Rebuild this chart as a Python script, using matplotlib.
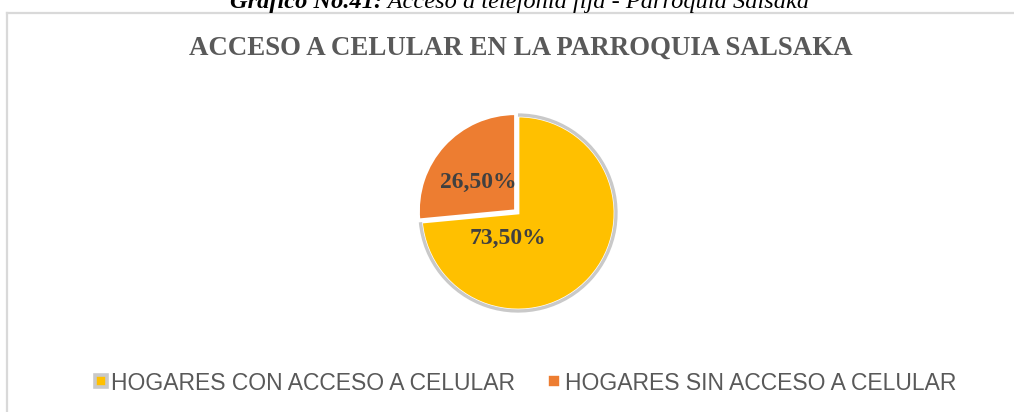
import numpy as np
import matplotlib.pyplot as plt
from matplotlib.patches import Arc
from matplotlib.lines import Line2D

# datos del gráfico
categorias = ['HOGARES CON ACCESO A CELULAR', 'HOGARES SIN ACCESO A CELULAR']
porcentajes = [73.50, 26.50]
colores = ['#FFC000', '#ED7D31']
etiquetas = ['73,50%', '26,50%']

titulo = 'ACCESO A CELULAR EN LA PARROQUIA SALSAKA'
leyenda_grafico = 'Gráfico No.41:'
descripcion = ' Acceso a telefonía fija - Parroquia Salsaka'

W, H = 1014, 412
fig = plt.figure(figsize=(W / 100, H / 100), dpi=100)
fig.patch.set_facecolor('white')

# marco del área del gráfico
fig.add_artist(Line2D([7 / W, 7 / W], [0, 1 - 13 / H], color='#D9D9D9', lw=1.6))
fig.add_artist(Line2D([7 / W, 1], [1 - 13 / H, 1 - 13 / H], color='#D9D9D9', lw=1.6))

# rótulo superior (cortado arriba)
t1 = fig.text(230 / W, 1 - 8 / H, leyenda_grafico, family='Liberation Serif',
              style='italic', weight='bold', fontsize=17.6, color='black', va='baseline')
fig.canvas.draw()
bb = t1.get_window_extent()
fig.text(bb.x1 / W, 1 - 8 / H, descripcion, family='Liberation Serif',
         style='italic', fontsize=17.6, color='black', va='baseline')

# título
fig.text(521 / W, 1 - 48 / H, titulo, family='Liberation Serif', weight='bold',
         fontsize=19.4, color='#595959', ha='center', va='center')

# pastel
cx, cy, r = 518, H - 213, 97
lim = 110 / r
ax = fig.add_axes([(cx - 110) / W, (cy - 110) / H, 220 / W, 220 / H])

wedges, _ = ax.pie(porcentajes, colors=colores, startangle=90, counterclock=False,
                   explode=[0, 0.035], radius=1,
                   wedgeprops=dict(edgecolor='white', linewidth=2))
ax.set_xlim(-lim, lim)
ax.set_ylim(-lim, lim)
ax.set_aspect('equal')
ax.axis('off')

# borde gris sólo en el arco del sector amarillo
w0 = wedges[0]
ax.add_patch(Arc((0, 0), 2.02, 2.02, theta1=w0.theta1, theta2=w0.theta2,
                 color='#C9C9C9', lw=2.4, zorder=3))

pos_etiquetas = [(-0.10, -0.26), (-0.41, 0.31)]
for txt, (x, y) in zip(etiquetas, pos_etiquetas):
    ax.text(x, y, txt, family='Liberation Serif', weight='bold', fontsize=17,
            color='#404040', ha='center', va='center', zorder=5)

# leyenda
handles = [
    Line2D([], [], ls='none', marker='s', markersize=9, markerfacecolor=colores[0],
           markeredgecolor='#C9C9C9', markeredgewidth=2.6),
    Line2D([], [], ls='none', marker='s', markersize=10, markerfacecolor=colores[1],
           markeredgecolor='white', markeredgewidth=2.6),
]
fig.legend(handles, categorias, loc='center', bbox_to_anchor=(524 / W, (H - 383) / H),
           ncol=2, frameon=False, handlelength=0.8, handletextpad=0.05,
           columnspacing=1.3, borderaxespad=0,
           prop=dict(family='Liberation Sans', size=16.5), labelcolor='#595959')

fig.savefig('out.png', dpi=100)
